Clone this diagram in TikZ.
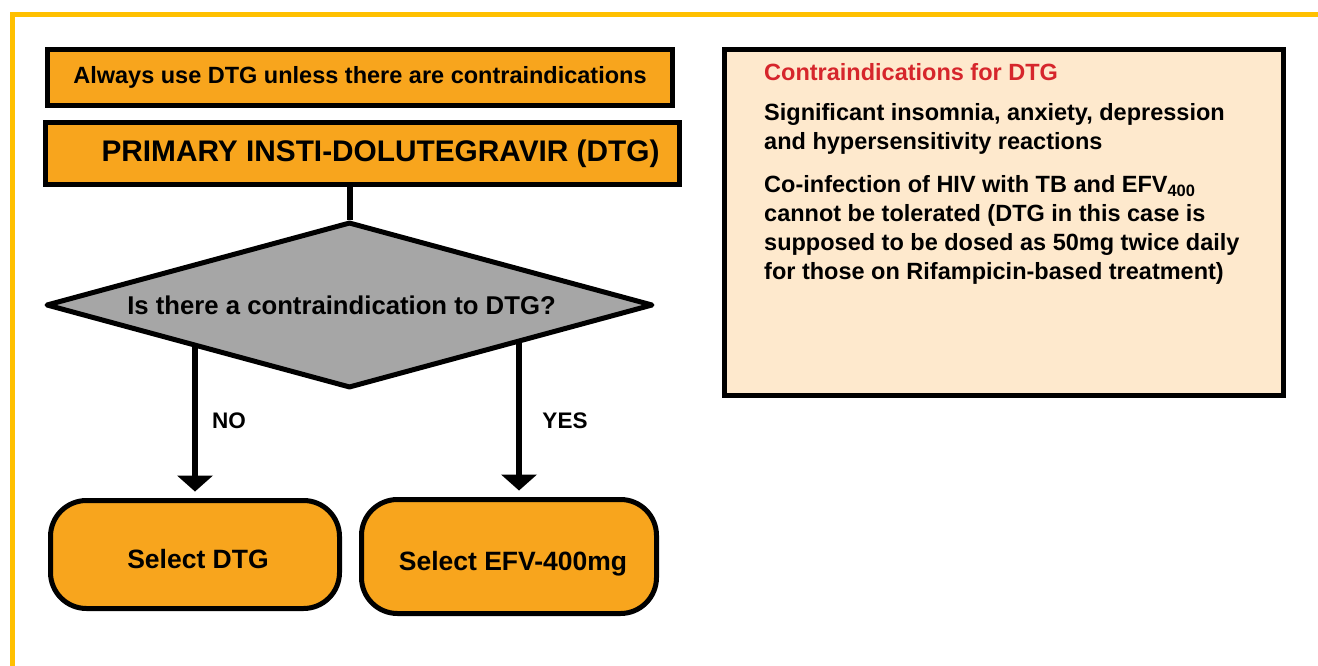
\documentclass[tikz,border=0pt]{standalone}
\usepackage{fontspec}
\setmainfont{Liberation Sans}
\usetikzlibrary{arrows.meta, positioning, shapes.geometric, backgrounds}
\definecolor{boxorange}{RGB}{248,165,29}
\definecolor{decgray}{RGB}{166,166,166}
\definecolor{notepeach}{RGB}{254,233,205}
\definecolor{framegold}{RGB}{255,192,0}
\definecolor{notered}{RGB}{214,38,44}

\begin{document}
\begin{tikzpicture}[x=1pt, y=-1pt,
    banner/.style={rectangle, draw=black, line width=5pt, fill=boxorange, inner sep=0pt},
    decision/.style={diamond, draw=black, line width=5pt, line join=round, fill=decgray, aspect=3.66,
      inner sep=0pt, minimum width=607pt, minimum height=166pt, font=\bfseries\fontsize{25.7}{30}\selectfont},
    choice/.style={rectangle, rounded corners=36pt, draw=black, line width=5pt, fill=boxorange,
      inner sep=0pt, text height=28pt, text depth=0pt, font=\bfseries\fontsize{26.5}{30}\selectfont},
    flow/.style={line width=6pt, -{Triangle[width=36pt, length=16pt, line width=0pt]}, shorten >=6.5pt},
    answer/.style={anchor=base, inner sep=0pt, font=\bfseries\fontsize{22.5}{26}\selectfont},
    notetext/.style={anchor=base west, align=left, inner sep=0pt, font=\bfseries\fontsize{23.5}{29}\selectfont}]

  \useasboundingbox (0,0) rectangle (1318,666);
  \draw[framegold, line width=4.5pt] (1318,14.5) -- (12.5,14.5) -- (12.5,666);

  \node[banner, minimum width=625pt, minimum height=56pt, font=\bfseries\fontsize{23.5}{28}\selectfont]
    (always) at (360,77.5) {Always use DTG unless there are contraindications};
  \node[banner, minimum width=634pt, minimum height=62pt, font=\bfseries\fontsize{29.8}{34}\selectfont]
    (primary) at (362.5,153.5) {\hspace*{36pt}PRIMARY INSTI-DOLUTEGRAVIR (DTG)};

  \node[decision] (dec) at (349.5,305) {\hspace*{-16pt}Is there a contraindication to DTG?};

  \node[choice, minimum width=289pt, minimum height=108pt] (seldtg) at (195,554.5) {\hspace*{6pt}Select DTG};
  \node[choice, minimum width=295pt, minimum height=114pt] (selefv) at (509,556.5) {\hspace*{8pt}Select EFV-400mg};
  \coordinate (yesdrop) at ([xshift=10pt]selefv.north);

  \draw[line width=6pt] (dec.north) -- (dec.north |- primary.south);

  \begin{scope}[on background layer]
    \fill[white] (0,0) rectangle (1318,666);
    \draw[flow] (seldtg.north |- dec.center) -- (seldtg.north);
    \draw[flow] (yesdrop |- dec.center) -- (yesdrop);
  \end{scope}

  \node[answer] (no) at (229,428) {NO};
  \node[answer] (yes) at (565,428) {YES};

  \node[rectangle, draw=black, line width=5pt, fill=notepeach, minimum width=559pt, minimum height=346pt,
    inner sep=0pt] (ctra) at (1004,222.5) {};
  \node[notetext, text=notered] (ctitle) at (764,81) {Contraindications for DTG};
  \node[notetext] (cone) at (764,149.5) {Significant insomnia, anxiety, depression\\and hypersensitivity reactions};
  \node[notetext] (ctwo) at (764,279.5) {Co-infection of HIV with TB and EFV\textsubscript{400}\\cannot be tolerated (DTG in this case is\\supposed to be dosed as 50mg twice daily\\for those on Rifampicin-based treatment)};
\end{tikzpicture}
\end{document}
